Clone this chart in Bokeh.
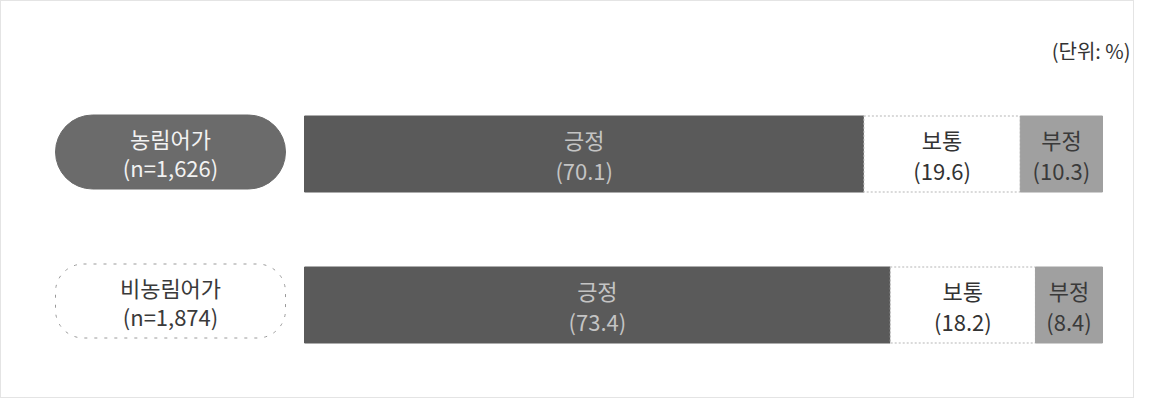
from bokeh.plotting import figure
from bokeh.models import Range1d, ColumnDataSource
from bokeh.core.properties import value
from bokeh.embed import file_html
from bokeh.resources import INLINE

groups = ["농림어가", "비농림어가"]
sizes = ["(n=1,626)", "(n=1,874)"]
categories = ["긍정", "보통", "부정"]
positive = [70.1, 73.4]
neutral = [19.6, 18.2]
negative = [10.3, 8.4]
unit_label = "(단위: %)"

FONT = value("Noto Sans CJK KR")
W, H = 1134, 398
PX_PER_UNIT = 7.98
BAR_LEFT_PX = 304
ROW_PX = 151
ROW0_PX = 153.5

x0 = -BAR_LEFT_PX / PX_PER_UNIT
x1 = (W - BAR_LEFT_PX) / PX_PER_UNIT
ytop = -ROW0_PX / ROW_PX
ybot = ytop + H / ROW_PX

p = figure(width=W, height=H, output_backend="svg", toolbar_location=None,
           x_range=Range1d(x0, x1), y_range=Range1d(ybot, ytop),
           min_border=0)
p.axis.visible = False
p.grid.visible = False
p.outline_line_color = "#c8c8c8"
p.outline_line_width = 1
p.outline_line_dash = "1 1"
p.background_fill_color = "white"

rows = list(range(len(groups)))
bar_h = 76 / ROW_PX

series = [positive, neutral, negative]
fills = ["#5a5a5a", "#ffffff", "#a0a0a0"]
lines = ["#5a5a5a", "#b5b5b5", "#a0a0a0"]
name_colors = ["#c4c4c4", "#333333", "#3a3a3a"]
val_colors = ["#c4c4c4", "#333333", "#3a3a3a"]
TS = "22px"

lefts = [0.0] * len(rows)
for k, vals in enumerate(series):
    rights = [l + v for l, v in zip(lefts, vals)]
    src = ColumnDataSource(dict(
        y=rows, left=lefts, right=rights,
        mid=[(l + r) / 2 for l, r in zip(lefts, rights)],
        name=[categories[k]] * len(rows),
        val=["(%.1f)" % v for v in vals]))
    p.hbar(y="y", left="left", right="right", height=bar_h, source=src,
           fill_color=fills[k], line_color=lines[k], line_width=1,
           line_dash="2 2" if k == 1 else "solid")
    p.text(x="mid", y="y", text="name", source=src, text_font=FONT,
           text_font_size=TS, text_align="center", text_baseline="middle",
           y_offset=-15, text_color=name_colors[k])
    p.text(x="mid", y="y", text="val", source=src, text_font=FONT,
           text_font_size=TS, text_align="center", text_baseline="middle",
           y_offset=16, text_color=val_colors[k])
    lefts = rights

# group label pills
pill_left = (55 - BAR_LEFT_PX) / PX_PER_UNIT
pill_right = (285 - BAR_LEFT_PX) / PX_PER_UNIT
pill_h = 74 / ROW_PX
pill_mid = (pill_left + pill_right) / 2
pill_src0 = ColumnDataSource(dict(y=[rows[0] - 2 / ROW_PX], g=[groups[0]], n=[sizes[0]]))
pill_src1 = ColumnDataSource(dict(y=[rows[1] - 4 / ROW_PX], g=[groups[1]], n=[sizes[1]]))
p.hbar(y="y", left=pill_left, right=pill_right, height=pill_h, source=pill_src0,
       fill_color="#6b6b6b", line_color="#6b6b6b", border_radius=37)
p.hbar(y="y", left=pill_left, right=pill_right, height=pill_h, source=pill_src1,
       fill_color="white", line_color="#9a9a9a", line_dash="3 7", border_radius=28)
for src, col in ((pill_src0, "#f2f2f2"), (pill_src1, "#3a3a3a")):
    p.text(x=pill_mid, y="y", text="g", source=src, text_font=FONT,
           text_font_size=TS, text_align="center", text_baseline="middle",
           y_offset=-14, text_color=col)
    p.text(x=pill_mid, y="y", text="n", source=src, text_font=FONT,
           text_font_size=TS, text_align="center", text_baseline="middle",
           y_offset=15, text_color=col)

p.text(x=[(1130 - BAR_LEFT_PX) / PX_PER_UNIT], y=[ytop + 50 / ROW_PX], text=[unit_label],
       text_font=FONT, text_font_size="20px", text_align="right",
       text_baseline="middle", text_color="#333333")

open("out.html", "w").write(file_html(p, INLINE))
